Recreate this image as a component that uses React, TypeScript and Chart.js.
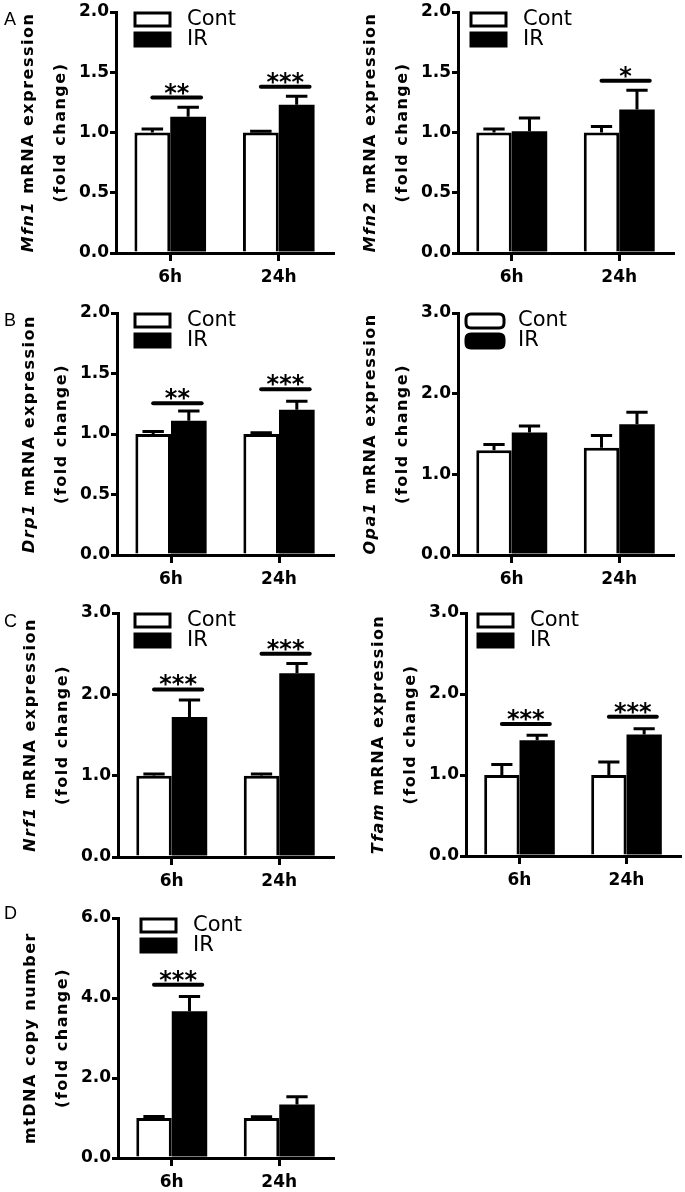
import React, { useEffect, useRef } from 'react';
import { Chart, registerables } from 'chart.js';

Chart.register(...registerables);

// ---------- data ----------
const categories = ['6h', '24h'];
const seriesLabels = ['Cont', 'IR'];

const mfn1Cont = [1.0, 1.0];
const mfn1ContErr = [0.03, 0.01];
const mfn1IR = [1.13, 1.23];
const mfn1IRErr = [0.08, 0.07];
const mfn1Stars = ['**', '***'];
const mfn1StarY = [1.29, 1.38];

const mfn2Cont = [1.0, 1.0];
const mfn2ContErr = [0.03, 0.05];
const mfn2IR = [1.01, 1.19];
const mfn2IRErr = [0.11, 0.16];
const mfn2Stars = ['', '*'];
const mfn2StarY = [0, 1.43];

const drp1Cont = [1.0, 1.0];
const drp1ContErr = [0.02, 0.01];
const drp1IR = [1.11, 1.2];
const drp1IRErr = [0.08, 0.07];
const drp1Stars = ['**', '***'];
const drp1StarY = [1.255, 1.37];

const opa1Cont = [1.3, 1.33];
const opa1ContErr = [0.07, 0.15];
const opa1IR = [1.52, 1.62];
const opa1IRErr = [0.08, 0.15];
const opa1Stars = ['', ''];
const opa1StarY = [0, 0];

const nrf1Cont = [1.0, 1.0];
const nrf1ContErr = [0.02, 0.02];
const nrf1IR = [1.72, 2.26];
const nrf1IRErr = [0.21, 0.12];
const nrf1Stars = ['***', '***'];
const nrf1StarY = [2.06, 2.5];

const tfamCont = [1.0, 1.0];
const tfamContErr = [0.13, 0.16];
const tfamIR = [1.43, 1.5];
const tfamIRErr = [0.06, 0.07];
const tfamStars = ['***', '***'];
const tfamStarY = [1.63, 1.72];

const mtdnaCont = [1.0, 1.0];
const mtdnaContErr = [0.04, 0.03];
const mtdnaIR = [3.67, 1.34];
const mtdnaIRErr = [0.37, 0.19];
const mtdnaStars = ['***', ''];
const mtdnaStarY = [4.33, 0];

// y-axis ranges [max, step]
const axis2 = [2.0, 0.5];
const axis3 = [3.0, 1.0];
const axis6 = [6.0, 2.0];

type Part = { t: string; i?: boolean };

interface PanelCfg {
  letter?: string;
  letterY?: number;
  x: number;
  w: number;
  top: number;
  bottom: number;
  axisX: number;
  right: number;
  yAxis: number[];
  title: Part[][];
  cont: number[];
  contErr: number[];
  ir: number[];
  irErr: number[];
  stars: string[];
  starY: number[];
  legendDX: number;
  roundLegend?: boolean;
}

const fold: Part[] = [{ t: '(fold change)' }];

const panels: PanelCfg[] = [
  { letter: 'A', letterY: 10, x: 0, w: 340, top: 12, bottom: 253, axisX: 116, right: 333, yAxis: axis2,
    title: [[{ t: 'Mfn1', i: true }, { t: ' mRNA expression' }], fold],
    cont: mfn1Cont, contErr: mfn1ContErr, ir: mfn1IR, irErr: mfn1IRErr, stars: mfn1Stars, starY: mfn1StarY, legendDX: 19 },
  { x: 340, w: 345, top: 12, bottom: 253, axisX: 458, right: 673, yAxis: axis2,
    title: [[{ t: 'Mfn2', i: true }, { t: ' mRNA expression' }], fold],
    cont: mfn2Cont, contErr: mfn2ContErr, ir: mfn2IR, irErr: mfn2IRErr, stars: mfn2Stars, starY: mfn2StarY, legendDX: 13 },
  { letter: 'B', letterY: 311, x: 0, w: 340, top: 313, bottom: 555, axisX: 117, right: 333, yAxis: axis2,
    title: [[{ t: 'Drp1', i: true }, { t: ' mRNA expression' }], fold],
    cont: drp1Cont, contErr: drp1ContErr, ir: drp1IR, irErr: drp1IRErr, stars: drp1Stars, starY: drp1StarY, legendDX: 18 },
  { x: 340, w: 345, top: 313, bottom: 555, axisX: 458, right: 673, yAxis: axis3,
    title: [[{ t: 'Opa1', i: true }, { t: ' mRNA expression' }], fold],
    cont: opa1Cont, contErr: opa1ContErr, ir: opa1IR, irErr: opa1IRErr, stars: opa1Stars, starY: opa1StarY, legendDX: 8, roundLegend: true },
  { letter: 'C', letterY: 612, x: 0, w: 340, top: 613, bottom: 857, axisX: 118, right: 333, yAxis: axis3,
    title: [[{ t: 'Nrf1', i: true }, { t: ' mRNA expression' }], fold],
    cont: nrf1Cont, contErr: nrf1ContErr, ir: nrf1IR, irErr: nrf1IRErr, stars: nrf1Stars, starY: nrf1StarY, legendDX: 17 },
  { x: 340, w: 345, top: 613, bottom: 856, axisX: 466, right: 680, yAxis: axis3,
    title: [[{ t: 'Tfam', i: true }, { t: ' mRNA expression' }], fold],
    cont: tfamCont, contErr: tfamContErr, ir: tfamIR, irErr: tfamIRErr, stars: tfamStars, starY: tfamStarY, legendDX: 12 },
  { letter: 'D', letterY: 904, x: 0, w: 340, top: 918, bottom: 1158, axisX: 118, right: 333, yAxis: axis6,
    title: [[{ t: 'mtDNA copy number' }], fold],
    cont: mtdnaCont, contErr: mtdnaContErr, ir: mtdnaIR, irErr: mtdnaIRErr, stars: mtdnaStars, starY: mtdnaStarY, legendDX: 23 },
];

const TICK_FONT = { family: '"DejaVu Sans", sans-serif', size: 17, weight: 'bold' as const };

function roundRect(ctx: CanvasRenderingContext2D, x: number, y: number, w: number, h: number, r: number) {
  ctx.beginPath();
  ctx.moveTo(x + r, y);
  ctx.lineTo(x + w - r, y);
  ctx.quadraticCurveTo(x + w, y, x + w, y + r);
  ctx.lineTo(x + w, y + h - r);
  ctx.quadraticCurveTo(x + w, y + h, x + w - r, y + h);
  ctx.lineTo(x + r, y + h);
  ctx.quadraticCurveTo(x, y + h, x, y + h - r);
  ctx.lineTo(x, y + r);
  ctx.quadraticCurveTo(x, y, x + r, y);
  ctx.closePath();
}

function Panel({ cfg }: { cfg: PanelCfg }) {
  const ref = useRef<HTMLCanvasElement>(null);
  const canvasTop = cfg.top - 12;
  const canvasH = cfg.bottom + 36 - canvasTop;

  useEffect(() => {
    if (!ref.current) return;
    const extras = {
      id: 'extras',
      afterDatasetsDraw(chart: any) {
        const ctx: CanvasRenderingContext2D = chart.ctx;
        const yScale = chart.scales.y;
        const errs = [cfg.contErr, cfg.irErr];
        const vals = [cfg.cont, cfg.ir];
        ctx.save();
        ctx.strokeStyle = '#000';
        ctx.lineWidth = 3;
        ctx.lineCap = 'butt';
        for (let d = 0; d < 2; d++) {
          const meta = chart.getDatasetMeta(d);
          meta.data.forEach((bar: any, j: number) => {
            const yTop = yScale.getPixelForValue(vals[d][j]);
            const yErr = yScale.getPixelForValue(vals[d][j] + errs[d][j]);
            const cap = bar.width * 0.6;
            ctx.beginPath();
            ctx.moveTo(bar.x, yTop);
            ctx.lineTo(bar.x, yErr);
            ctx.moveTo(bar.x - cap / 2, yErr);
            ctx.lineTo(bar.x + cap / 2, yErr);
            ctx.stroke();
          });
        }
        // significance lines
        const m0 = chart.getDatasetMeta(0);
        const m1 = chart.getDatasetMeta(1);
        cfg.stars.forEach((s, j) => {
          if (!s) return;
          const b0 = m0.data[j];
          const b1 = m1.data[j];
          const x0 = b0.x;
          const x1 = b1.x + b1.width / 2 - 5;
          const y = yScale.getPixelForValue(cfg.starY[j]);
          ctx.lineWidth = 4;
          ctx.lineCap = 'round';
          ctx.beginPath();
          ctx.moveTo(x0, y);
          ctx.lineTo(x1, y);
          ctx.stroke();
          ctx.font = 'bold 24px "DejaVu Sans", sans-serif';
          ctx.fillStyle = '#000';
          ctx.textAlign = 'center';
          ctx.textBaseline = 'alphabetic';
          const m = ctx.measureText(s);
          ctx.fillText(s, (x0 + x1) / 2, y - 3 - m.actualBoundingBoxDescent);
        });
        ctx.restore();
      },
      afterDraw(chart: any) {
        const ctx: CanvasRenderingContext2D = chart.ctx;
        const area = chart.chartArea;
        // legend
        ctx.save();
        const bx = area.left + cfg.legendDX;
        const rows = [area.top + 1, area.top + 21];
        const fills = ['#fff', '#000'];
        rows.forEach((ry, k) => {
          ctx.lineWidth = 3;
          ctx.strokeStyle = '#000';
          ctx.fillStyle = fills[k];
          if (cfg.roundLegend) {
            roundRect(ctx, bx, ry, 38, 14, 5);
          } else {
            ctx.beginPath();
            ctx.rect(bx, ry, 35, 13);
          }
          ctx.fill();
          ctx.stroke();
          ctx.fillStyle = '#000';
          ctx.font = '21px "DejaVu Sans", sans-serif';
          ctx.textAlign = 'left';
          ctx.textBaseline = 'middle';
          ctx.fillText(chart.data.datasets[k].label, bx + 52, ry + 7);
        });
        ctx.restore();

        // y-axis title with italic gene names
        const cy = (area.top + area.bottom) / 2;
        const offsets = [87, 55];
        cfg.title.forEach((parts, i) => {
          ctx.save();
          ctx.translate(area.left - offsets[i], cy);
          ctx.rotate(-Math.PI / 2);
          (ctx as any).letterSpacing = '1.5px';
          ctx.fillStyle = '#000';
          ctx.textAlign = 'left';
          ctx.textBaseline = 'middle';
          const fontFor = (p: Part) => `${p.i ? 'italic ' : ''}bold 16px "DejaVu Sans", sans-serif`;
          let total = 0;
          parts.forEach((p) => {
            ctx.font = fontFor(p);
            total += ctx.measureText(p.t).width;
          });
          let xx = -total / 2;
          parts.forEach((p) => {
            ctx.font = fontFor(p);
            ctx.fillText(p.t, xx, 0);
            xx += ctx.measureText(p.t).width;
          });
          ctx.restore();
        });
      },
    };

    const chart = new Chart(ref.current, {
      type: 'bar',
      data: {
        labels: categories,
        datasets: [
          { label: seriesLabels[0], data: cfg.cont, backgroundColor: '#fff', borderColor: '#000', borderWidth: 3 },
          { label: seriesLabels[1], data: cfg.ir, backgroundColor: '#000', borderColor: '#000', borderWidth: 0 },
        ],
      },
      options: {
        responsive: false,
        animation: false,
        events: [],
        layout: { padding: { left: 0, top: 12, right: cfg.x + cfg.w - cfg.right, bottom: 0 } },
        datasets: { bar: { categoryPercentage: 0.66, barPercentage: 1 } },
        plugins: { legend: { display: false }, tooltip: { enabled: false }, title: { display: false } },
        scales: {
          x: {
            offset: true,
            grid: { display: true, offset: false, drawOnChartArea: false, drawTicks: true, tickLength: 8, color: '#000', lineWidth: 3 },
            border: { display: true, color: '#000', width: 3 },
            ticks: { color: '#000', font: TICK_FONT, padding: 6, maxRotation: 0 },
            afterFit: (s: any) => { s.height = canvasH - (cfg.bottom - canvasTop); },
          },
          y: {
            min: 0,
            max: cfg.yAxis[0],
            grid: { display: true, drawOnChartArea: false, drawTicks: true, tickLength: 6, color: '#000', lineWidth: 3 },
            border: { display: true, color: '#000', width: 3 },
            ticks: { stepSize: cfg.yAxis[1], color: '#000', font: TICK_FONT, padding: 1, callback: (v: any) => Number(v).toFixed(1) },
            afterFit: (s: any) => { s.width = cfg.axisX - cfg.x; },
          },
        },
      } as any,
      plugins: [extras],
    });
    return () => chart.destroy();
  }, []);

  return (
    <canvas
      ref={ref}
      width={cfg.w}
      height={canvasH}
      style={{ position: 'absolute', left: cfg.x, top: canvasTop, width: cfg.w, height: canvasH }}
    />
  );
}

export default function App() {
  return (
    <div style={{ position: 'absolute', left: 0, top: 0, width: 685, height: 1192, background: '#fff', overflow: 'hidden' }}>
      {panels.map((p, i) => (
        <Panel key={i} cfg={p} />
      ))}
      {panels.filter((p) => p.letter).map((p, i) => (
        <div
          key={'l' + i}
          style={{ position: 'absolute', left: 4, top: p.letterY, font: '18px "Liberation Sans", Arial, sans-serif', lineHeight: '18px', color: '#000' }}
        >
          {p.letter}
        </div>
      ))}
    </div>
  );
}
